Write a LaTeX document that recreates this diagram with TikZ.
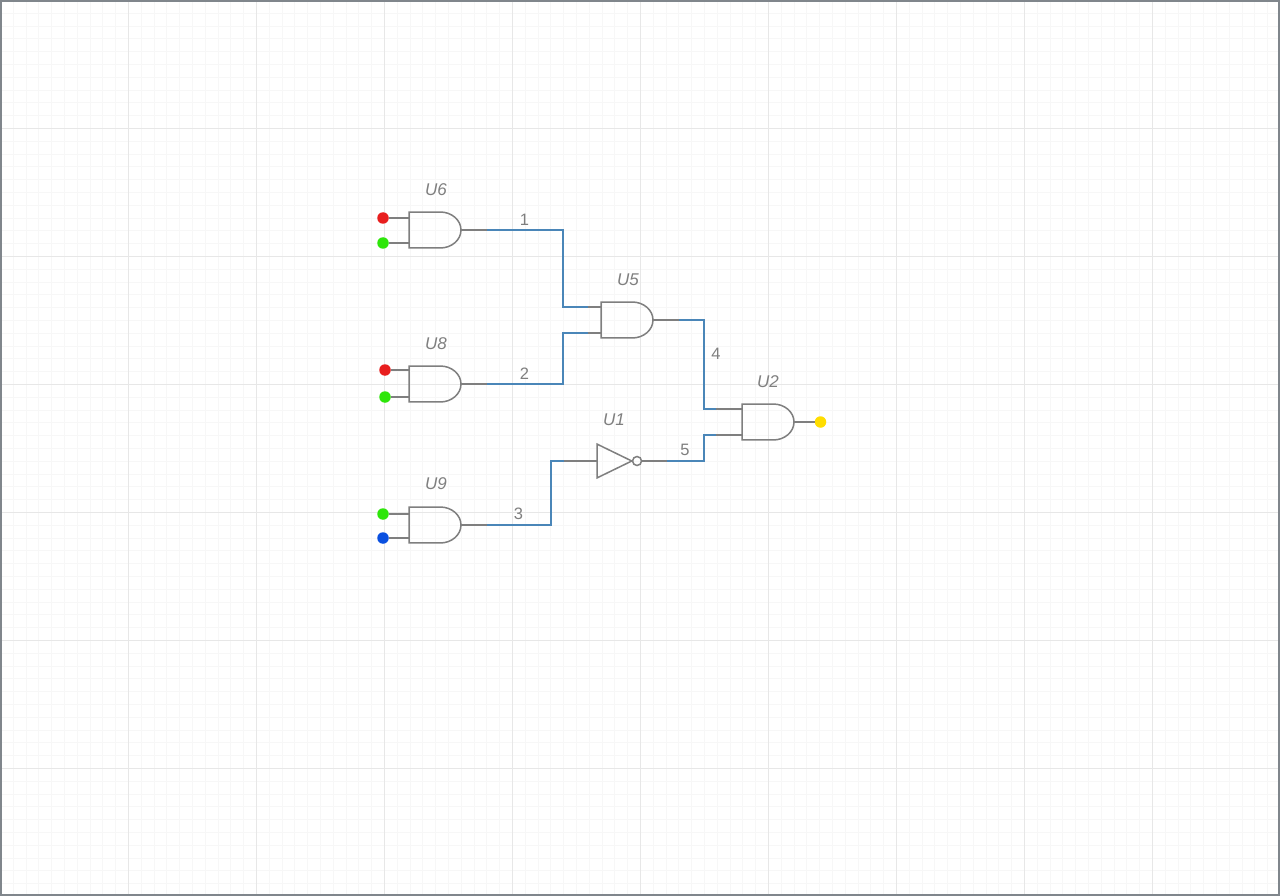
\documentclass[tikz,border=0pt]{standalone}
\usepackage{fontspec}
\setmainfont{Liberation Sans}
\usetikzlibrary{shapes.gates.logic.US}
\definecolor{gatecol}{HTML}{7F7F7F}
\definecolor{wirecol}{HTML}{4A86B8}
\definecolor{framecol}{HTML}{80868C}
\definecolor{majorcol}{HTML}{E7E7E7}
\definecolor{minorcol}{HTML}{F7F7F7}
\definecolor{sigred}{HTML}{E81E1E}
\definecolor{siggreen}{HTML}{2EE60A}
\definecolor{sigblue}{HTML}{0A50E0}
\definecolor{sigyellow}{HTML}{FFDD00}
\tikzset{
  andg/.style={and gate US,draw=gatecol,line width=1.5pt,logic gate inputs=nn,logic gate input sep=9pt,transform shape,yscale=.865,minimum width=52pt,inner sep=0pt,outer sep=0pt,anchor=west},
  notg/.style={not gate US,draw=gatecol,line width=1.5pt,logic gate inverted radius=4.5pt,minimum width=36pt,minimum height=29pt,inner sep=0pt,outer sep=0pt,anchor=west},
  pin/.style={draw=gatecol,line width=1.5pt},
  wire/.style={draw=wirecol,line width=1.7pt},
  sig/.style={circle,inner sep=0pt,minimum size=11.5pt},
  gname/.style={text=gatecol,font=\fontsize{17}{17}\selectfont\itshape,inner sep=0pt},
  wname/.style={text=gatecol,font=\fontsize{16.5}{17}\selectfont,inner sep=0pt}
}
\begin{document}
\begin{tikzpicture}[x=1pt,y=-1pt]
  \useasboundingbox (0,0) rectangle (1280,896);
  \fill[white] (0,0) rectangle (1280,896);
  \foreach \k in {0,...,100} {
    \draw[minorcol,line width=1pt] (12.8*\k+.5,0) -- (12.8*\k+.5,896);
  }
  \foreach \k in {0,...,70} {
    \draw[minorcol,line width=1pt] (0,12.8*\k+.5) -- (1280,12.8*\k+.5);
  }
  \foreach \k in {1,...,9} {
    \draw[majorcol,line width=1.3pt] (128*\k+.5,0) -- (128*\k+.5,896);
  }
  \foreach \k in {1,...,6} {
    \draw[majorcol,line width=1.3pt] (0,128*\k+.5) -- (1280,128*\k+.5);
  }
  \draw[framecol,line width=2pt] (1,1) rectangle (1279,895);

  \node[andg] (U6) at (409,230) {};
  \node[andg] (U8) at (409,384) {};
  \node[andg] (U9) at (409,525) {};
  \node[andg] (U5) at (601,320) {};
  \node[andg] (U2) at (742,422) {};
  \node[notg] (U1) at (597,461) {};

  \node[sig,fill=sigred] (A1) at (383,218) {};
  \node[sig,fill=siggreen] (B1) at (383,243) {};
  \node[sig,fill=sigred] (A2) at (385,370) {};
  \node[sig,fill=siggreen] (B2) at (385,397) {};
  \node[sig,fill=siggreen] (A3) at (383,514) {};
  \node[sig,fill=sigblue] (B3) at (383,538) {};
  \node[sig,fill=sigyellow] (Y) at (820.5,422) {};

  \draw[pin] (A1) -- (A1 -| U6.west);
  \draw[pin] (B1) -- (B1 -| U6.west);
  \draw[pin] (A2) -- (A2 -| U8.west);
  \draw[pin] (B2) -- (B2 -| U8.west);
  \draw[pin] (A3) -- (A3 -| U9.west);
  \draw[pin] (B3) -- (B3 -| U9.west);
  \draw[pin] (U2.east) -- (Y);

  \coordinate (U5-a) at (588,307);
  \coordinate (U5-b) at (588,333);
  \coordinate (U2-a) at (716,409);
  \coordinate (U2-b) at (716,435);
  \coordinate (bend1) at (563,270);
  \coordinate (bend2) at (563,360);
  \coordinate (bend3) at (551,490);
  \coordinate (bend4) at (704,360);
  \coordinate (bend5) at (704,450);

  \draw[pin] (U6.east) -- ++(26,0) coordinate (U6-out);
  \draw[pin] (U8.east) -- ++(26,0) coordinate (U8-out);
  \draw[pin] (U9.east) -- ++(26,0) coordinate (U9-out);
  \draw[pin] (U5.east) -- ++(26,0) coordinate (U5-out);
  \draw[pin] (U1.output) -- ++(25,0) coordinate (U1-out);
  \draw[pin] (U1.input) -- ++(-33,0) coordinate (U1-in);
  \draw[pin] (U5-a) -- (U5-a -| U5.west);
  \draw[pin] (U5-b) -- (U5-b -| U5.west);
  \draw[pin] (U2-a) -- (U2-a -| U2.west);
  \draw[pin] (U2-b) -- (U2-b -| U2.west);

  \draw[wire] (U6-out) -| (bend1) |- (U5-a);
  \draw[wire] (U8-out) -| (bend2) |- (U5-b);
  \draw[wire] (U9-out) -| (bend3) |- (U1-in);
  \draw[wire] (U5-out) -| (bend4) |- (U2-a);
  \draw[wire] (U1-out) -| (bend5) |- (U2-b);

  \node[gname] (L6) at (436,190) {U6};
  \node[gname] (L5) at (628,280) {U5};
  \node[gname] (L8) at (436,344) {U8};
  \node[gname] (L9) at (436,484) {U9};
  \node[gname] (L1) at (614,420) {U1};
  \node[gname] (L2) at (768,382) {U2};

  \node[wname] (N1) at (524.5,220) {1};
  \node[wname] (N2) at (524.5,374) {2};
  \node[wname] (N3) at (518.5,514) {3};
  \node[wname] (N4) at (716,354) {4};
  \node[wname] (N5) at (685,450) {5};
\end{tikzpicture}
\end{document}
